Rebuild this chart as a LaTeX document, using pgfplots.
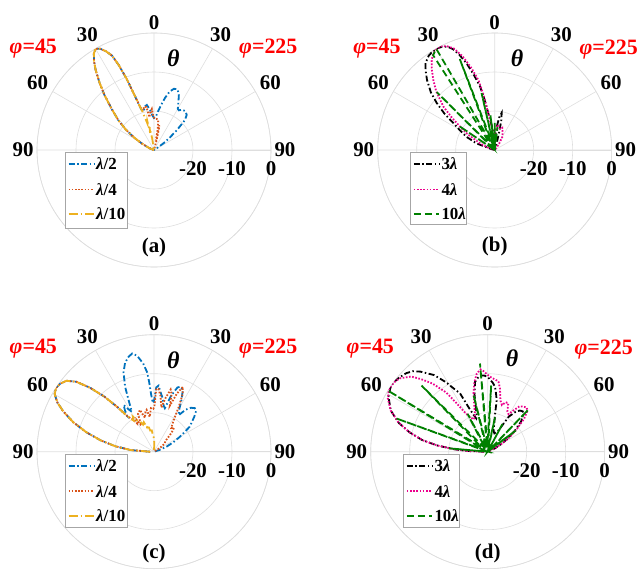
\documentclass[border=0pt]{standalone}
\usepackage{pgfplots}
\usepackage{pgfplotstable}
\pgfplotsset{compat=1.18}
\usepgfplotslibrary{polar}
\usepackage{fontspec}
\setmainfont{Liberation Serif}
\definecolor{mblue}{rgb}{0,0.447,0.741}
\definecolor{morange}{rgb}{0.850,0.325,0.098}
\definecolor{myellow}{rgb}{0.929,0.694,0.125}
\definecolor{mgreen}{rgb}{0,0.5,0}
\definecolor{gridgray}{RGB}{222,222,222}

% columns: t = theta in degrees (negative = phi=45 side, positive = phi=225 side), r = gain in dB
\pgfplotstableread{
t r
-90 -30
-80 -30
-72 -29.5
-67 -28.5
-62 -26.5
-58 -24
-54 -21
-50 -18
-46 -15
-42 -11
-39 -7.8
-36 -4.5
-34 -2.5
-32 -0.9
-30 0
-28 -0.6
-26 -1.8
-24 -3.5
-22.5 -6.5
-21 -10.5
-19.6 -15
-18 -18.2
-17 -19.3
-15 -19.8
-12 -18.6
-9 -18.3
-6 -19.5
-3 -21
0 -21.8
3 -21.5
6 -20
9 -18.3
12 -16.3
15 -14.5
18 -13.5
21 -13.3
24 -14.3
27 -16.2
30 -17.8
32 -18
35 -17.4
39 -17.2
43 -17.7
46 -19
49 -22.2
52 -25
55 -27.2
60 -29.5
65 -30
90 -30
}\aA
\pgfplotstableread{
t r
-90 -30
-80 -30
-72 -29.5
-67 -28.5
-62 -26.5
-58 -24
-54 -21
-50 -18
-46 -15
-42 -11
-39 -7.8
-36 -4.5
-34 -2.5
-32 -0.9
-30 0
-28 -0.6
-26 -1.8
-24 -3.5
-22.5 -6.5
-21 -10.5
-19.6 -15
-18 -18.2
-17 -19.3
-15 -19.5
-13 -18.6
-10 -18.8
-8 -21.5
-6 -20.5
-3 -19.5
-1 -21.5
2 -22
5 -22
8 -22.2
10 -24.5
11 -27.5
12 -23.5
13 -24.5
15 -27.5
18 -30
90 -30
}\aB
\pgfplotstableread{
t r
-90 -30
-80 -30
-72 -29.5
-67 -28.5
-62 -26.5
-58 -24
-54 -21
-50 -18
-46 -15
-42 -11
-39 -7.8
-36 -4.5
-34 -2.5
-32 -0.9
-30 0
-28 -0.6
-26 -1.8
-24 -3.5
-22.5 -6.5
-21 -10.5
-19.6 -15
-18 -18.2
-17 -19.3
-15.5 -21.5
-14 -23
-13 -22.5
-12.5 -25.5
-11 -24
-9 -27
-6 -30
90 -30
}\aC
\pgfplotstableread{
t r
-90 -30
-75 -29
-70 -25
-65 -22
-60 -19.5
-57 -17.4
-54 -14
-51 -10.9
-48 -8
-44 -5
-41 -3
-38.5 -1.5
-35 -0.5
-32 -0.1
-30 0
-27 -0.3
-24.5 -0.9
-22.5 -2
-20.5 -3.8
-18 -6.6
-15.5 -10
-13 -13.3
-11.5 -16.5
-9.8 -20.5
-7 -23.5
-4.6 -25.7
-2 -27.5
0 -28
3 -26
5 -24
8 -21.5
10.6 -20.3
12.5 -22
14 -25
16 -28
20 -30
90 -30
}\bA
\pgfplotstableread{
t r
-90 -30
-70 -28
-65.6 -25.9
-60 -22
-56 -19.3
-53 -16.3
-49.8 -12.8
-45 -8.8
-41.2 -6.1
-38 -3.8
-35 -1.8
-32 -0.5
-29 0
-27 -0.1
-24.5 -0.8
-22 -1.9
-19 -4.5
-16 -8
-13.1 -11.6
-11.5 -15.5
-10.4 -19.6
-8 -23.5
-5 -26
-2 -26.5
2 -25
6 -23.5
10 -24
15 -24.5
19 -24
24 -25
30 -26
35 -28
45 -30
90 -30
}\bB
\pgfplotstableread{
t r
-90 -30
-62 -30
-56 -19
-52 -30
-45 -9
-40 -29
-33 -1
-30 0
-27 -28
-21 -5
-17 -29
-13 -15
-10 -30
-7 -21
-4 -30
0 -23
3 -30
7 -24
11 -30
90 -30
}\bC
\pgfplotstableread{
t r
-90 -29
-86 -24
-82 -20
-78 -16
-74 -12
-70 -8
-66 -4.5
-63 -2.2
-60 -0.6
-57 0
-54 -0.3
-51 -1.1
-48 -3.2
-45 -6.8
-42 -11
-39.5 -15
-37 -18.5
-35 -17
-33 -15.7
-31 -17.3
-29 -18.3
-27 -16.2
-24 -11.8
-21 -8.2
-18 -6
-15 -4.8
-12.5 -4.2
-10 -5
-7 -7.2
-5 -9.5
-4 -12
-3 -15
-1.5 -17.5
0 -17
2 -13.5
4 -13
6 -14.5
9 -16
12 -18
14 -18.5
17 -15
20 -12.5
22 -12
25 -12.5
28 -15
31 -17.5
34 -18.7
37 -16.5
40 -15.3
43 -14.7
46 -15
49 -16.3
55 -18.8
60 -22.3
64 -24.5
68 -26.5
72 -28.5
76 -30
90 -30
}\cA
\pgfplotstableread{
t r
-90 -29
-86 -24
-82 -20
-78 -16
-74 -12
-70 -8
-66 -4.5
-63 -2.2
-60 -0.6
-57 0
-54 -0.3
-51 -1.1
-48 -3.2
-45 -6.8
-42 -11
-39.5 -15
-37 -18.5
-35 -19.5
-33.8 -19.7
-31 -21.5
-28.7 -20.7
-26 -22.5
-23 -19.5
-18.6 -18.7
-15 -21
-12 -19.5
-10 -19.1
-7 -21
-4 -18.8
-1 -19
0.5 -18.5
2 -14
4 -13.8
6.5 -15.5
9.5 -18.5
12 -16
15 -13.5
17 -14.5
19 -17.5
21.5 -14
24 -11.8
26.5 -13.5
29 -17
32 -20.5
36 -22.5
40 -22
43 -23.5
47 -26
52 -26.5
57 -28
62 -30
90 -30
}\cB
\pgfplotstableread{
t r
-90 -29
-86 -24
-82 -20
-78 -16
-74 -12
-70 -8
-66 -4.5
-63 -2.2
-60 -0.6
-57 0
-54 -0.3
-51 -1.1
-48 -3.2
-45 -6.8
-42 -11
-39.5 -15
-37 -18.5
-35 -19.8
-33 -20.5
-31 -19.5
-28 -21
-25 -21.3
-22 -22.5
-19 -22
-16 -23.5
-13 -23
-10 -24.5
-6 -24.5
-3 -26
0 -26.5
2 -28
5 -30
90 -30
}\cC
\pgfplotstableread{
t r
-90 -29
-88 -25
-86 -21.7
-83 -17
-80 -13
-76 -9.3
-72 -6
-67 -3
-61 -0.9
-57 -0.2
-54 0
-50 -0.4
-46 -1
-43 -1.8
-40 -3.2
-35 -6
-31 -9.2
-28 -11.8
-25.4 -13.4
-23 -18
-21 -19.8
-19 -21
-17 -20.5
-15.6 -18.9
-13 -15
-10.3 -11.8
-7 -10.7
-4 -10.4
-2 -10.5
1 -11.2
4 -12.2
6.4 -13.2
8 -14.8
9.9 -16.6
11 -20
13 -22.5
16 -24.5
20 -25
24 -24.5
27 -23.8
31 -19.5
35 -17.5
38 -16.6
41 -16.3
44 -16.8
48 -18.5
52 -21
56 -23.5
60 -25.7
65 -28
70 -30
90 -30
}\dA
\pgfplotstableread{
t r
-90 -29
-88 -25
-86 -21.7
-83 -17
-80 -13
-76 -9.3
-72 -6
-67 -3
-62 -1
-58 -0.1
-55 0
-52 -0.3
-50 -0.7
-45.5 -2.5
-42.6 -4.7
-39 -7.5
-35 -11.5
-32.5 -15.5
-30 -18.5
-27 -20
-23 -21
-19 -20
-16 -17.5
-13.5 -14.5
-11 -12
-8 -9.8
-5 -8.8
-3 -9.3
0 -10.3
3 -11
6 -11.4
8.7 -11.8
11 -13.5
14 -16.5
17 -17.5
20 -16.5
23 -16.5
26 -18.5
29 -19
32 -17.5
35 -15.8
38 -15.3
41.3 -14.9
44 -15.3
48 -17.5
52 -20.5
56 -23
60 -25.5
65 -28
70 -30
90 -30
}\dB
\pgfplotstableread{
t r
-90 -30
-85 -20
-80 -30
-70 -5
-64 -29
-58.5 0
-54 -28
-45 -6
-38 -29
-28 -19
-22 -29
-14 -15
-10 -29
-5 -7.3
-2 -28
3 -13
6 -29
12 -21
17 -30
28 -22
33 -30
44 -15
48 -29
53 -21
58 -30
90 -30
}\dC

\tikzset{
  pl/.style={line width=1.8bp},
  sdd/.style={dash pattern=on 6bp off 2.5bp on 1.5bp off 2.5bp},
  sdot/.style={dash pattern=on 1.6bp off 1.6bp},
  sdd2/.style={dash pattern=on 9bp off 3bp on 1.5bp off 3bp},
  sdash/.style={dash pattern=on 7bp off 4bp},
  phil/.style={font=\fontsize{22}{22}\selectfont\bfseries, text=red},
  thl/.style={font=\fontsize{24}{24}\selectfont\bfseries\itshape},
  capl/.style={font=\fontsize{21}{21}\selectfont\bfseries},
  legt/.style={font=\fontsize{17}{18}\selectfont\bfseries, anchor=west, inner sep=0pt},
}
\pgfplotsset{
  myax/.style={
    scale only axis, width=234bp, height=234bp,
    anchor=center,
    xmin=0, xmax=360, ymin=0, ymax=30,
    xtick={0,30,60,90,120,150,180},
    xticklabels={90,60,30,0,30,60,90},
    ytick={10,20,30},
    yticklabels={-20,-10,0},
    xmajorgrids, ymajorgrids,
    major grid style={gridgray, line width=0.6bp},
    axis line style={gridgray, line width=0.6bp},
    tick style={draw=none},
    ticklabel style={font=\fontsize{21}{21}\selectfont\bfseries},
    yticklabel style={anchor=north, yshift=-8bp},
  },
}

\begin{document}
\begin{tikzpicture}
\path[use as bounding box] (0,0) rectangle (644bp,-574bp);

\begin{polaraxis}[myax, at={(154bp,-150bp)}]
\addplot[pl, mblue, sdd] table[x expr=90-\thisrowno{0}, y expr={max(\thisrowno{1}+30,0)}] {\aA};
\addplot[pl, morange, sdot] table[x expr=90-\thisrowno{0}, y expr={max(\thisrowno{1}+30,0)}] {\aB};
\addplot[pl, myellow, sdd2] table[x expr=90-\thisrowno{0}, y expr={max(\thisrowno{1}+30,0)}] {\aC};
\end{polaraxis}

\begin{polaraxis}[myax, at={(494.7bp,-150bp)}]
\addplot[pl, black, sdd] table[x expr=90-\thisrowno{0}, y expr={max(\thisrowno{1}+30,0)}] {\bA};
\addplot[pl, magenta, sdot] table[x expr=90-\thisrowno{0}, y expr={max(\thisrowno{1}+30,0)}] {\bB};
\addplot[pl, mgreen, sdash] table[x expr=90-\thisrowno{0}, y expr={max(\thisrowno{1}+30,0)}] {\bC};
\end{polaraxis}

\begin{polaraxis}[myax, at={(154bp,-451.7bp)}]
\addplot[pl, mblue, sdd] table[x expr=90-\thisrowno{0}, y expr={max(\thisrowno{1}+30,0)}] {\cA};
\addplot[pl, morange, sdot] table[x expr=90-\thisrowno{0}, y expr={max(\thisrowno{1}+30,0)}] {\cB};
\addplot[pl, myellow, sdd2] table[x expr=90-\thisrowno{0}, y expr={max(\thisrowno{1}+30,0)}] {\cC};
\end{polaraxis}

\begin{polaraxis}[myax, at={(487.7bp,-451.7bp)}]
\addplot[pl, black, sdd] table[x expr=90-\thisrowno{0}, y expr={max(\thisrowno{1}+30,0)}] {\dA};
\addplot[pl, magenta, sdot] table[x expr=90-\thisrowno{0}, y expr={max(\thisrowno{1}+30,0)}] {\dB};
\addplot[pl, mgreen, sdash] table[x expr=90-\thisrowno{0}, y expr={max(\thisrowno{1}+30,0)}] {\dC};
\end{polaraxis}

% legend boxes
\draw[gray!70, line width=0.6bp, fill=white] (65bp,-152.5bp) rectangle (127bp,-228bp);
\draw[gray!70, line width=0.6bp, fill=white] (410.3bp,-152.5bp) rectangle (466.3bp,-224bp);
\draw[gray!70, line width=0.6bp, fill=white] (65bp,-454.2bp) rectangle (127bp,-527bp);
\draw[gray!70, line width=0.6bp, fill=white] (403.3bp,-454.2bp) rectangle (459.3bp,-527bp);
% legend samples
\draw[line width=1.8bp, color=mblue, dash pattern=on 6bp off 2.5bp on 1.5bp off 2.5bp] (68.5bp,-164bp) -- (94bp,-164bp);
\draw[line width=1.8bp, color=morange, dash pattern=on 1.6bp off 1.6bp] (68.5bp,-189.5bp) -- (94bp,-189.5bp);
\draw[line width=1.8bp, color=myellow, dash pattern=on 9bp off 3bp on 1.5bp off 3bp] (68.5bp,-214bp) -- (94bp,-214bp);
\node[legt] at (96bp,-164bp) {\textit{λ}/2};
\node[legt] at (96bp,-189.5bp) {\textit{λ}/4};
\node[legt] at (96bp,-214bp) {\textit{λ}/10};
\draw[line width=1.8bp, color=black, dash pattern=on 6bp off 2.5bp on 1.5bp off 2.5bp] (413.8bp,-164bp) -- (439.3bp,-164bp);
\draw[line width=1.8bp, color=magenta, dash pattern=on 1.6bp off 1.6bp] (413.8bp,-189.5bp) -- (439.3bp,-189.5bp);
\draw[line width=1.8bp, color=mgreen, dash pattern=on 7bp off 4bp] (413.8bp,-214bp) -- (439.3bp,-214bp);
\node[legt] at (441.3bp,-164bp) {3\textit{λ}};
\node[legt] at (441.3bp,-189.5bp) {4\textit{λ}};
\node[legt] at (441.3bp,-214bp) {10\textit{λ}};
\draw[line width=1.8bp, color=mblue, dash pattern=on 6bp off 2.5bp on 1.5bp off 2.5bp] (68.5bp,-465.7bp) -- (94bp,-465.7bp);
\draw[line width=1.8bp, color=morange, dash pattern=on 1.6bp off 1.6bp] (68.5bp,-491.2bp) -- (94bp,-491.2bp);
\draw[line width=1.8bp, color=myellow, dash pattern=on 9bp off 3bp on 1.5bp off 3bp] (68.5bp,-515.7bp) -- (94bp,-515.7bp);
\node[legt] at (96bp,-465.7bp) {\textit{λ}/2};
\node[legt] at (96bp,-491.2bp) {\textit{λ}/4};
\node[legt] at (96bp,-515.7bp) {\textit{λ}/10};
\draw[line width=1.8bp, color=black, dash pattern=on 6bp off 2.5bp on 1.5bp off 2.5bp] (406.8bp,-465.7bp) -- (432.3bp,-465.7bp);
\draw[line width=1.8bp, color=magenta, dash pattern=on 1.6bp off 1.6bp] (406.8bp,-491.2bp) -- (432.3bp,-491.2bp);
\draw[line width=1.8bp, color=mgreen, dash pattern=on 7bp off 4bp] (406.8bp,-515.7bp) -- (432.3bp,-515.7bp);
\node[legt] at (434.3bp,-465.7bp) {3\textit{λ}};
\node[legt] at (434.3bp,-491.2bp) {4\textit{λ}};
\node[legt] at (434.3bp,-515.7bp) {10\textit{λ}};

% annotations
\node[phil] at (33.3bp,-48.3bp) {\textit{φ}=45};
\node[phil] at (268.3bp,-48.3bp) {\textit{φ}=225};
\node[thl] at (173.3bp,-58.3bp) {θ};
\node[capl] at (154bp,-247bp) {(a)};
\node[phil] at (377bp,-48.3bp) {\textit{φ}=45};
\node[phil] at (608.7bp,-50bp) {\textit{φ}=225};
\node[thl] at (517bp,-58.3bp) {θ};
\node[capl] at (494.7bp,-246.7bp) {(b)};
\node[phil] at (33.3bp,-348.3bp) {\textit{φ}=45};
\node[phil] at (268.3bp,-348.3bp) {\textit{φ}=225};
\node[thl] at (173.3bp,-360bp) {θ};
\node[capl] at (154bp,-553.3bp) {(c)};
\node[phil] at (370.3bp,-348.3bp) {\textit{φ}=45};
\node[phil] at (603.7bp,-350bp) {\textit{φ}=225};
\node[thl] at (512bp,-358.3bp) {θ};
\node[capl] at (487.7bp,-553.3bp) {(d)};
\end{tikzpicture}
\end{document}
